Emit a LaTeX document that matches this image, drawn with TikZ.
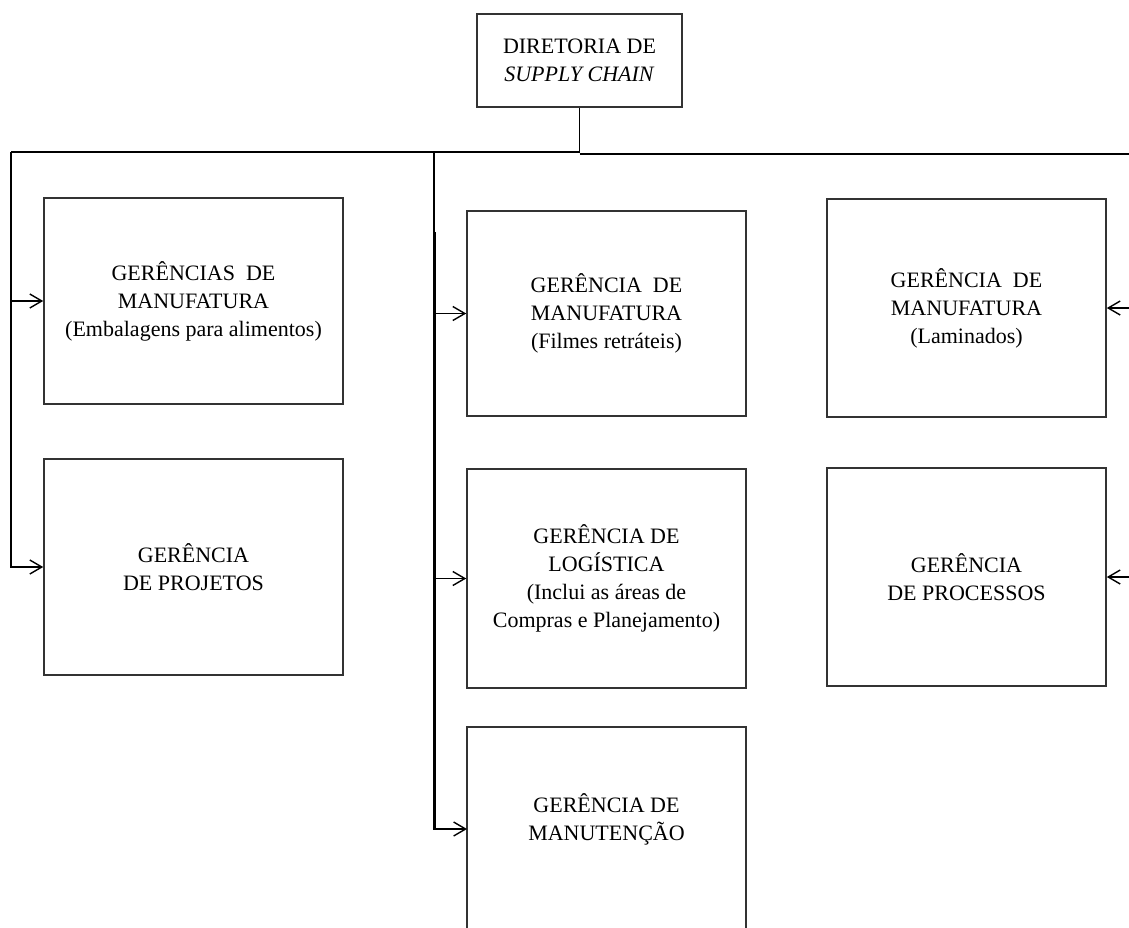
\documentclass[tikz,border=0pt]{standalone}
\usepackage{fontspec}
\setmainfont{Liberation Serif}
\usetikzlibrary{arrows.meta}
\begin{document}
\begin{tikzpicture}[x=1pt,y=-1pt,
  unitbox/.style={draw=black!80, line width=1.6pt, fill=white, inner sep=0pt,
    align=center, font=\fontsize{22}{28}\selectfont},
  txt/.style={inner sep=0pt, align=center, font=\fontsize{22}{28}\selectfont},
  link/.style={draw=black, line width=1.6pt},
  arr/.style={link, -{Straight Barb[length=12pt,width=14pt,line width=1.4pt]}}
]
\useasboundingbox (0,0) rectangle (1129,927);
\clip (0,0) rectangle (1129,927);
\fill[white] (0,0) rectangle (1129,927);

% head of the department
\node[unitbox, minimum width=205, minimum height=93] (top) at (579.5,60.5)
  {DIRETORIA DE\\\textit{SUPPLY CHAIN}};

% left column
\node[unitbox, minimum width=299, minimum height=206] (b1) at (193.5,301)
  {GERÊNCIAS\ \ DE\\MANUFATURA\\(Embalagens para alimentos)};
\node[unitbox, minimum width=299, minimum height=216] (b2) at (193.5,567)
  {GERÊNCIA\\DE PROJETOS};

% middle column
\node[unitbox, minimum width=279, minimum height=205] (b3) at (606.5,313.5)
  {GERÊNCIA\ \ DE\\MANUFATURA\\(Filmes retráteis)};
\node[unitbox, minimum width=279, minimum height=219] (b4) at (606.5,578.5)
  {GERÊNCIA DE\\LOGÍSTICA\\(Inclui as áreas de\\Compras e Planejamento)};
\node[unitbox, minimum width=279, minimum height=260, anchor=north] (b5) at (606.5,726) {};
\node[txt] (t5) at (606.5,819) {GERÊNCIA DE\\MANUTENÇÃO};

% right column
\node[unitbox, minimum width=279, minimum height=218] (b6) at (966.5,308)
  {GERÊNCIA\ \ DE\\MANUFATURA\\(Laminados)};
\node[unitbox, minimum width=279, minimum height=218] (b7) at (966.5,577)
  {GERÊNCIA\\DE PROCESSOS};

% bus coordinates
\coordinate (hl) at (11,152);
\coordinate (hm) at (579.5,152);
\coordinate (hm2) at (579.5,154);
\coordinate (hr) at (1129,154);
\coordinate (sm) at (434,152);
\coordinate (sm2) at (435.5,232);
\coordinate (a5) at (467,829);

% main bus
\draw[link] (top.south) -- (hm) -- (hl);
\draw[link] (hm2) -- (hr);

% left branch
\draw[arr] (hl) |- (b2.west);
\draw[arr] (hl |- b1.west) -- (b1.west);

% middle branch
\draw[arr] (sm) |- (a5);
\draw[link] (sm2) -- (sm2 |- a5);
\draw[arr] (sm |- b3.west) -- (b3.west);
\draw[arr] (sm |- b4.west) -- (b4.west);

% right branch
\draw[arr] (hr |- b6.east) -- (b6.east);
\draw[arr] (hr |- b7.east) -- (b7.east);
\end{tikzpicture}
\end{document}
